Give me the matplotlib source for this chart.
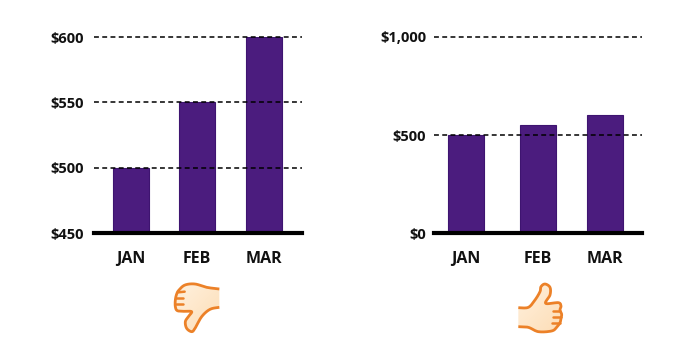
import numpy as np
import matplotlib
matplotlib.use("Agg")
import matplotlib.pyplot as plt
from matplotlib.path import Path
from matplotlib.patches import PathPatch
from matplotlib.colors import LinearSegmentedColormap

months = ["JAN", "FEB", "MAR"]
left_values = [500, 550, 600]
right_values = [500, 550, 600]
left_ticks = [450, 500, 550, 600]
right_ticks = [0, 500, 1000]
left_labels = ["$450", "$500", "$550", "$600"]
right_labels = ["$0", "$500", "$1,000"]

W, H = 700, 357
PURPLE = "#4B1C7E"
EDGE = "#3E1470"
plt.rcParams["font.family"] = ["Open Sans", "DejaVu Sans"]
fig = plt.figure(figsize=(W / 100, H / 100), dpi=100, facecolor="white")


def make_axes(x0, x1, ytop, ybot):
    return fig.add_axes([x0 / W, 1 - ybot / H, (x1 - x0) / W, (ybot - ytop) / H])


def panel(ax, centers, values, ticks, labels, ylim, xlim, ypad):
    ax.set_xlim(*xlim)
    ax.set_ylim(*ylim)
    ax.bar(centers, values, width=36, color=PURPLE, edgecolor=EDGE, linewidth=0.8, zorder=2)
    for t in ticks:
        if t != ylim[0]:
            ax.axhline(t, color="black", lw=1.1, ls=(0, (3.2, 2.2)), zorder=3, clip_on=False)
    for s in ("top", "right", "left"):
        ax.spines[s].set_visible(False)
    ax.spines["bottom"].set_linewidth(3)
    ax.spines["bottom"].set_zorder(4)
    ax.set_yticks(ticks, labels, fontsize=10.5, fontweight="bold", color="#111111")
    ax.set_xticks(centers, months, fontsize=11.5, fontweight="bold", color="#111111")
    for lab in ax.get_yticklabels():
        lab.set_y(lab.get_position()[1])
    ax.tick_params(axis="both", length=0)
    ax.tick_params(axis="y", pad=ypad)
    ax.tick_params(axis="x", pad=13)
    ax.patch.set_alpha(0)


# x data are pixel-like offsets inside each panel
ax1 = make_axes(94, 302, 37, 233)
panel(ax1, [37, 103, 170], left_values, left_ticks, left_labels, (450, 600), (0, 208), 7)
ax2 = make_axes(434, 642, 37, 233)
panel(ax2, [32, 104, 171], right_values, right_ticks, right_labels, (0, 1000), (0, 208), 5.5)

# Overlay in pixel coordinates for the two hand illustrations
ov = fig.add_axes([0, 0, 1, 1], zorder=5)
ov.set_xlim(0, W)
ov.set_ylim(H, 0)
ov.axis("off")
ov.patch.set_alpha(0)


def spline(pts, n=10):
    p = np.array(pts, float)
    q = np.vstack([p[0], p, p[-1]])
    out = []
    for i in range(1, len(q) - 2):
        for t in np.linspace(0, 1, n, endpoint=False):
            a, b, c, d = q[i - 1], q[i], q[i + 1], q[i + 2]
            out.append(0.5 * (2 * b + (c - a) * t + (2 * a - 5 * b + 4 * c - d) * t ** 2
                              + (3 * b - a - 3 * c + d) * t ** 3))
    out.append(q[-2])
    return np.array(out)


skin = LinearSegmentedColormap.from_list("skin", ["#FFF1DE", "#FDDDB6"])
ORANGE = "#EC8128"


def hand(outline, strokes, ox, oy):
    # zoom-crop coordinates (3x) converted to pixels
    pts = spline(outline) / 3 + [ox, oy]
    xmin, ymin = pts.min(0)
    xmax, ymax = pts.max(0)
    grad = np.linspace(0, 1, 64)[:, None] * 0.5 + np.linspace(0, 1, 64)[None, :] * 0.5
    im = ov.imshow(grad, cmap=skin, extent=[xmin, xmax, ymax, ymin], aspect="auto", zorder=1)
    clip = PathPatch(Path(pts), transform=ov.transData, fc="none", ec="none")
    ov.add_patch(clip)
    im.set_clip_path(clip)
    ov.plot(pts[:, 0], pts[:, 1], color=ORANGE, lw=2.0, zorder=2, solid_capstyle="butt")
    for s in strokes:
        sp = np.array(s, float) / 3 + [ox, oy]
        ov.plot(sp[:, 0], sp[:, 1], color=ORANGE, lw=1.8, zorder=2, solid_capstyle="round")


# thumbs-down
down = [(178, 112), (150, 118), (125, 140), (105, 175), (95, 185), (80, 175), (76, 155), (85, 140), (95, 125),
        (72, 124), (52, 122), (46, 110), (46, 90), (50, 72), (57, 60), (75, 45), (105, 42), (140, 52), (178, 57)]
hand(down, [[(48, 84), (68, 84)], [(48, 103), (70, 103)], [(54, 67), (74, 65)]], 160, 270)

# thumbs-up
up = [(40, 170), (70, 172), (100, 185), (140, 183), (155, 172), (165, 158), (168, 145), (170, 133), (165, 120),
      (168, 108), (160, 98), (122, 100), (135, 75), (135, 52), (120, 42), (108, 50), (105, 65), (90, 90), (70, 112),
      (40, 113)]
hand(up, [[(144, 122), (165, 122)], [(144, 140), (168, 140)], [(142, 158), (164, 158)]], 505, 270)
ov.set_xlim(0, W)
ov.set_ylim(H, 0)

fig.savefig("out.png", dpi=100, facecolor="white")
